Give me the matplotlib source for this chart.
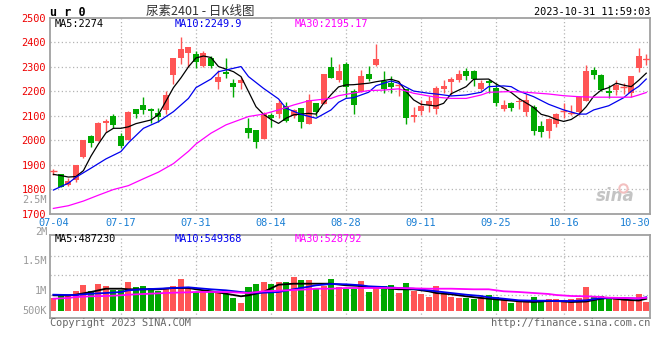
#!/usr/bin/env python3
"""UR2401 daily K-line chart with volume panel, Sina finance style."""
import numpy as np
import pandas as pd
import matplotlib
matplotlib.use("Agg")
import matplotlib.pyplot as plt
from matplotlib.transforms import blended_transform_factory

# ---- data ----------------------------------------------------------------
HOLIDAYS = ["2023-09-29", "2023-10-02", "2023-10-03", "2023-10-04",
            "2023-10-05", "2023-10-06"]
days = pd.bdate_range("2023-07-04", "2023-10-31")
days = days[~days.isin(pd.to_datetime(HOLIDAYS))]
DATE_LABELS = ["07-04", "07-17", "07-31", "08-14", "08-28", "09-11",
               "09-25", "10-16", "10-30"]

OPEN = np.array([1871, 1861, 1816, 1838, 1933, 2019, 1999, 2069, 2099, 2018,
                 2001, 2127, 2144, 2127, 2113, 2124, 2267, 2337, 2358, 2352,
                 2305, 2335, 2239, 2278, 2233, 2233, 2052, 2042, 2005, 2103,
                 2107, 2141, 2099, 2131, 2065, 2154, 2147, 2298, 2246, 2312,
                 2201, 2196, 2271, 2307, 2242, 2235, 2222, 2210, 2094, 2120,
                 2144, 2128, 2210, 2239, 2246, 2283, 2283, 2210, 2242, 2215,
                 2127, 2154, 2155, 2117, 2137, 2059, 2038, 2067, 2117, 2107,
                 2114, 2161, 2287, 2267, 2201, 2205, 2213, 2195, 2297, 2328])
HIGH = np.array([1883, 1863, 1848, 1899, 2001, 2022, 2076, 2086, 2107, 2029,
                 2121, 2127, 2177, 2131, 2133, 2201, 2337, 2423, 2381, 2365,
                 2365, 2346, 2287, 2337, 2250, 2260, 2093, 2042, 2114, 2110,
                 2165, 2155, 2127, 2133, 2189, 2154, 2269, 2339, 2310, 2318,
                 2210, 2287, 2303, 2393, 2283, 2263, 2242, 2210, 2135, 2165,
                 2181, 2222, 2246, 2260, 2287, 2297, 2287, 2246, 2250, 2233,
                 2165, 2158, 2171, 2188, 2144, 2079, 2093, 2113, 2151, 2144,
                 2181, 2307, 2301, 2271, 2226, 2246, 2233, 2263, 2378, 2351])
LOW = np.array([1858, 1808, 1812, 1829, 1927, 1974, 1999, 2035, 2049, 1967,
                2001, 2093, 2106, 2069, 2076, 2107, 2230, 2312, 2298, 2294,
                2301, 2297, 2210, 2253, 2178, 2210, 2011, 1970, 2005, 2056,
                2093, 2076, 2090, 2052, 2065, 2099, 2147, 2253, 2239, 2176,
                2107, 2196, 2244, 2305, 2192, 2192, 2181, 2065, 2076, 2103,
                2117, 2106, 2192, 2185, 2239, 2246, 2223, 2201, 2192, 2141,
                2121, 2121, 2127, 2101, 2022, 2015, 2011, 2056, 2093, 2103,
                2103, 2161, 2250, 2201, 2174, 2185, 2188, 2178, 2278, 2307])
CLOSE = np.array([1873, 1811, 1835, 1899, 2001, 1988, 2072, 2079, 2063, 1977,
                  2114, 2107, 2124, 2121, 2094, 2185, 2337, 2371, 2381, 2321,
                  2355, 2303, 2260, 2269, 2219, 2246, 2031, 1995, 2107, 2090,
                  2154, 2079, 2124, 2076, 2165, 2117, 2269, 2253, 2283, 2219,
                  2144, 2263, 2250, 2332, 2210, 2219, 2225, 2093, 2103, 2142,
                  2161, 2215, 2222, 2250, 2271, 2263, 2250, 2235, 2235, 2154,
                  2144, 2133, 2162, 2165, 2038, 2035, 2087, 2107, 2120, 2110,
                  2178, 2283, 2267, 2205, 2195, 2226, 2216, 2263, 2344, 2331])

MA5_IDX = [0, 1, 2, 3, 4, 5, 6, 7, 8, 9, 10, 11, 13, 14, 15, 16, 17, 18, 19,
           20, 21, 22, 24, 25, 26, 27, 28, 29, 30, 31, 32, 34, 35, 36, 37, 38,
           39, 40, 42, 43, 45, 46, 47, 48, 49, 51, 52, 53, 55, 56, 58, 59, 60,
           61, 62, 64, 65, 66, 67, 68, 69, 70, 71, 72, 73, 74, 75, 76, 77, 78, 79]
MA5_VAL = [1861, 1856, 1850, 1852, 1876, 1935, 1985, 2030, 2049, 2049, 2055,
           2068, 2083, 2105, 2160, 2215, 2255, 2300, 2336, 2344, 2338, 2301,
           2280, 2260, 2199, 2137, 2106, 2085, 2069, 2090, 2104, 2110, 2107,
           2151, 2186, 2218, 2226, 2227, 2233, 2239, 2249, 2240, 2199, 2165,
           2147, 2140, 2151, 2190, 2219, 2249, 2250, 2230, 2213, 2195, 2171,
           2134, 2106, 2098, 2085, 2077, 2085, 2105, 2137, 2180, 2205, 2215,
           2233, 2225, 2219, 2245, 2274]
MA10_IDX = [0, 2, 3, 5, 7, 9, 10, 12, 14, 16, 18, 19, 21, 22, 24, 25, 26, 28,
            30, 31, 33, 35, 37, 38, 39, 40, 42, 43, 45, 46, 48, 50, 51, 53, 55,
            57, 58, 60, 61, 62, 64, 66, 68, 70, 71, 72, 74, 76, 77, 78, 79]
MA10_VAL = [1797, 1825, 1849, 1886, 1924, 1954, 1990, 2049, 2076, 2117, 2171,
            2215, 2250, 2280, 2294, 2301, 2260, 2212, 2169, 2131, 2106, 2090,
            2124, 2155, 2171, 2174, 2196, 2223, 2242, 2233, 2201, 2192, 2189,
            2181, 2185, 2196, 2219, 2222, 2219, 2201, 2178, 2147, 2124, 2107,
            2107, 2124, 2141, 2174, 2200, 2220, 2250]
MA30_IDX = [0, 2, 4, 6, 8, 10, 12, 14, 16, 18, 19, 21, 23, 26, 28, 30, 32, 34,
            37, 38, 40, 42, 44, 46, 48, 50, 51, 53, 55, 57, 58, 61, 63, 66, 68,
            70, 72, 77, 78, 79]
MA30_VAL = [1722, 1733, 1752, 1776, 1799, 1815, 1843, 1870, 1905, 1955, 1985,
            2029, 2063, 2097, 2107, 2124, 2144, 2161, 2171, 2182, 2193, 2203,
            2205, 2210, 2192, 2181, 2176, 2171, 2171, 2185, 2196, 2199, 2196,
            2189, 2182, 2178, 2176, 2176, 2185, 2195]

VOLUME = np.array([508, 640, 640, 800, 1040, 800, 1080, 1000, 840, 840,
                   1160, 960, 1000, 908, 800, 920, 1000, 1280, 920, 748,
                   800, 800, 760, 680, 520, 320, 960, 1080, 1160, 1080,
                   1160, 1160, 1360, 1240, 1240, 880, 1000, 1280, 960, 880,
                   880, 1200, 760, 948, 1000, 1040, 720, 1120, 800, 680,
                   560, 1000, 732, 560, 520, 520, 480, 572, 628, 548,
                   480, 320, 400, 400, 560, 412, 480, 480, 440, 480,
                   520, 960, 600, 600, 492, 480, 440, 440, 680, 372]) * 1000
VMA_IDX = [0, 2, 3, 5, 7, 9, 10, 12, 14, 16, 18, 19, 21, 23, 25, 26, 28, 30,
           32, 34, 35, 37, 39, 41, 42, 44, 46, 48, 50, 51, 53, 55, 57, 58, 60,
           62, 64, 66, 67, 69, 71, 73, 74, 76, 78, 79]
VMA5_VAL = np.array([628, 620, 652, 760, 892, 892, 868, 868, 868, 920, 920,
                     868, 788, 692, 588, 628, 760, 1052, 1092, 1092, 1092, 1092,
                     1028, 1000, 960, 920, 868, 868, 788, 720, 668, 588, 520,
                     492, 440, 388, 360, 400, 400, 360, 380, 492, 520, 452,
                     420, 487]) * 1000
VMA10_VAL = np.array([652, 640, 640, 692, 720, 760, 828, 868, 892, 920, 948,
                      920, 868, 828, 760, 732, 732, 760, 868, 972, 1028, 1080,
                      1068, 1028, 988, 960, 920, 892, 828, 788, 720, 652, 600,
                      548, 492, 428, 412, 412, 400, 400, 428, 520, 520, 520,
                      492, 549]) * 1000
VMA30_IDX = [0, 2, 3, 5, 7, 9, 10, 12, 14, 16, 18, 19, 21, 23, 25, 26, 28, 30,
             32, 34, 35, 37, 39, 42, 46, 50, 53, 56, 58, 60, 62, 64, 66, 67,
             69, 71, 73, 74, 76, 78, 79]
VMA30_VAL = np.array([492, 520, 560, 588, 600, 628, 652, 680, 708, 732, 748,
                      760, 760, 760, 732, 720, 788, 812, 840, 868, 892, 892,
                      920, 920, 920, 892, 892, 868, 868, 788, 760, 720, 680,
                      640, 600, 588, 560, 532, 520, 508, 529]) * 1000

# ---- style ---------------------------------------------------------------
RED, GREEN = "#ff5555", "#00a800"
BORDER, GRID = "#a0a0a0", "#b4b4b4"
MONO = "DejaVu Sans Mono"
FS = 7.4
VOL_PX = 40000            # volume units per pixel in the lower panel

W, H = 660, 360
def fx(px): return px / W
def fy(py): return 1 - py / H

x = np.arange(len(days))
up = CLOSE >= OPEN
cols = np.where(up, RED, GREEN)
tick_pos = [list(days.strftime("%m-%d")).index(d) for d in DATE_LABELS]
XLIM = (-0.45, 79.5)

fig = plt.figure(figsize=(W / 100, H / 100), dpi=100)
fig.patch.set_facecolor("white")

def frame(a):
    for s in a.spines.values():
        s.set_color(BORDER)
        s.set_linewidth(1.3)

# ---- price panel ---------------------------------------------------------
ax = fig.add_axes([fx(50), fy(213.8), fx(650) - fx(50), (213.8 - 17.8) / H])
ax.set_xlim(*XLIM)
ax.set_ylim(1700, 2500)
frame(ax)
for p in range(1800, 2500, 100):
    ax.axhline(p, color=GRID, lw=0.9, ls=(0, (1, 2)), zorder=0)
for t in tick_pos[1:-1]:
    ax.axvline(t, color=GRID, lw=0.9, ls=(0, (1, 2)), zorder=0)

ax.vlines(x, LOW, HIGH, colors=cols, lw=1.0, zorder=2)
ax.bar(x, np.maximum(np.abs(CLOSE - OPEN), 0.5), bottom=np.minimum(OPEN, CLOSE),
       width=0.8, color=cols, linewidth=0, zorder=2.5)
doji = np.abs(CLOSE - OPEN) < 6
ax.hlines(CLOSE[doji], x[doji] - 0.45, x[doji] + 0.45, colors=cols[doji],
          lw=1.0, zorder=2.6)

ax.plot(MA5_IDX, MA5_VAL, color="black", lw=0.9, zorder=3)
ax.plot(MA10_IDX, MA10_VAL, color="#0000ee", lw=0.9, zorder=3)
ax.plot(MA30_IDX, MA30_VAL, color="#ff00ff", lw=0.9, zorder=3)

ax.set_yticks(range(1700, 2600, 100))
ax.set_yticklabels([str(v) for v in range(1700, 2600, 100)],
                   family=MONO, fontsize=FS, color="#ee0000")
ax.set_xticks([])
ax.tick_params(axis="y", length=0, pad=3)

date_tr = blended_transform_factory(ax.transData, fig.transFigure)
for d, t in zip(DATE_LABELS, tick_pos):
    last = d == DATE_LABELS[-1]
    ax.text(XLIM[1] if last else max(t, XLIM[0]), fy(222.5), d,
            transform=date_tr, ha="right" if last else "center", va="center",
            family=MONO, fontsize=FS, color="#1a7fd4")

ax.text(fx(55), fy(24), "MA5:%d" % MA5_VAL[-1], transform=fig.transFigure,
        family=MONO, fontsize=FS, color="black", va="center")
ax.text(fx(175), fy(24), "MA10:2249.9", transform=fig.transFigure,
        family=MONO, fontsize=FS, color="#0000ee", va="center")
ax.text(fx(295), fy(24), "MA30:2195.17", transform=fig.transFigure,
        family=MONO, fontsize=FS, color="#ff00ff", va="center")

# sina watermark
ax.text(0.975, 0.09, "sina", transform=ax.transAxes, ha="right", va="center",
        fontsize=12, fontstyle="italic", fontweight="bold", color="#c4c4c4",
        family="DejaVu Sans", zorder=1)
ax.plot([0.955], [0.13], transform=ax.transAxes, marker="o", ms=6,
        mfc="none", mec="#f3c0c0", mew=1.5, zorder=1)

# ---- volume panel --------------------------------------------------------
av = fig.add_axes([fx(50), fy(318.3), fx(650) - fx(50), (318.3 - 234.7) / H])
av.set_xlim(*XLIM)
av.set_ylim(-7.3 * VOL_PX, 76.3 * VOL_PX)
frame(av)
av.set_xticks([])
av.set_yticks([])
for f in (0.275, 0.514, 0.745):
    av.plot([0, 1], [f, f], transform=av.transAxes, color=GRID, lw=0.9,
            ls=(0, (1, 2)), zorder=0)
for t in tick_pos[1:-1]:
    av.axvline(t, color=GRID, lw=0.9, ls=(0, (1, 2)), zorder=0)
av.bar(x, VOLUME, width=0.8, color=cols, linewidth=0, zorder=2)
av.plot(VMA_IDX, VMA5_VAL, color="black", lw=1.3, zorder=3)
av.plot(VMA_IDX, VMA10_VAL, color="#0000ee", lw=1.3, zorder=3)
av.plot(VMA30_IDX, VMA30_VAL, color="#ff00ff", lw=1.3, zorder=3)

for lab, py in [("2.5M", 200), ("2M", 231.5), ("1.5M", 261), ("1M", 291), ("500K", 311)]:
    fig.text(fx(47), fy(py), lab, ha="right", va="center", family=MONO,
             fontsize=FS, color="#9a9a9a")
fig.text(fx(55), fy(238.5), "MA5:487230", va="center", family=MONO,
         fontsize=FS, color="black")
fig.text(fx(175), fy(238.5), "MA10:549368", va="center", family=MONO,
         fontsize=FS, color="#0000ee")
fig.text(fx(295), fy(238.5), "MA30:528792", va="center", family=MONO,
         fontsize=FS, color="#ff00ff")

# ---- header / footer -----------------------------------------------------
fig.text(fx(50), fy(12), "u r 0", va="center", family=MONO, fontsize=8.5,
         fontweight="bold", color="black")
fig.text(fx(200), fy(11), "尿素2401 - 日K线图", ha="center", va="center",
         family=["Noto Sans CJK SC", "DejaVu Sans"], fontsize=9, color="#333333")
fig.text(fx(650), fy(12), "2023-10-31 11:59:03", ha="right", va="center",
         family=MONO, fontsize=FS, color="black")
fig.text(fx(50), fy(323.5), "Copyright 2023 SINA.COM", va="center",
         family=MONO, fontsize=FS, color="#666666")
fig.text(fx(650), fy(323.5), "http://finance.sina.com.cn", ha="right",
         va="center", family=MONO, fontsize=FS, color="#666666")

fig.savefig("out.png", dpi=100, facecolor="white")
